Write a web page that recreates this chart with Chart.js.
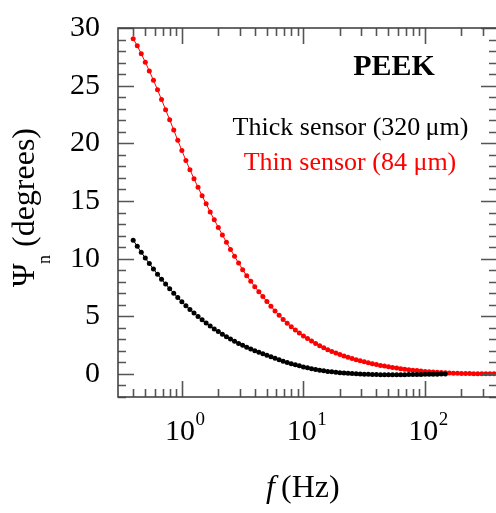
<!DOCTYPE html>
<html>
<head>
<meta charset="utf-8">
<script src="https://cdn.jsdelivr.net/npm/chart.js@4.4.0/dist/chart.umd.min.js"></script>
<style>
  html, body { margin: 0; padding: 0; background: #fff; }
  #wrap { width: 496px; height: 513px; position: relative; }
</style>
</head>
<body>
<div id="wrap"><canvas id="psiChart"></canvas></div>
<script>
const freq = [
  0.400, 0.432, 0.466, 0.503, 0.543, 0.587, 0.634, 0.684, 0.739, 0.798,
  0.862, 0.930, 1.005, 1.085, 1.171, 1.265, 1.366, 1.475, 1.592, 1.719,
  1.857, 2.005, 2.165, 2.338, 2.524, 2.726, 2.943, 3.178, 3.431, 3.705,
  4.000, 4.32, 4.66, 5.03, 5.43, 5.87, 6.34, 6.84, 7.39, 7.98,
  8.62, 9.30, 10.05, 10.85, 11.71, 12.65, 13.66, 14.75, 15.92, 17.19,
  18.57, 20.05, 21.65, 23.38, 25.24, 27.26, 29.43, 31.78, 34.31, 37.05,
  40.0, 43.2, 46.6, 50.3, 54.3, 58.7, 63.4, 68.4, 73.9, 79.8,
  86.2, 93.0, 100.5, 108.5, 117.1, 126.5, 136.6, 147.5, 159.2, 171.9,
  185.7, 200.5, 216.5, 233.8, 252.4, 272.6, 294.3, 317.8, 343.1, 370.5
];

// Psi_n (degrees), thin sensor (84 um)
const thinPsi = [
  29.07, 28.45, 27.77, 27.04, 26.27, 25.47, 24.64, 23.79, 22.92, 22.04,
  21.15, 20.26, 19.37, 18.52, 17.71, 16.93, 16.18, 15.45, 14.75, 14.05,
  13.37, 12.70, 12.05, 11.42, 10.80, 10.20, 9.61, 9.04, 8.52, 8.03,
  7.57, 7.13, 6.71, 6.28, 5.86, 5.46, 5.08, 4.73, 4.40, 4.09,
  3.80, 3.54, 3.30, 3.07, 2.85, 2.64, 2.45, 2.27, 2.10, 1.95,
  1.81, 1.68, 1.56, 1.44, 1.33, 1.23, 1.14, 1.05, 0.96, 0.88,
  0.81, 0.74, 0.68, 0.62, 0.56, 0.51, 0.46, 0.41, 0.37, 0.33,
  0.29, 0.25, 0.22, 0.19, 0.16, 0.14, 0.12, 0.10, 0.08, 0.06,
  0.05, 0.04, 0.03, 0.03, 0.02, 0.02, 0.01, 0.01, 0.01, 0.01
];

// Psi_n (degrees), thick sensor (320 um) - stops around 150 Hz
const thickPsi = [
  11.60, 11.07, 10.55, 10.05, 9.57, 9.10, 8.65, 8.21, 7.79, 7.39,
  7.00, 6.62, 6.26, 5.92, 5.59, 5.28, 4.98, 4.69, 4.42, 4.15,
  3.90, 3.67, 3.44, 3.23, 3.02, 2.83, 2.65, 2.48, 2.31, 2.16,
  2.02, 1.88, 1.75, 1.62, 1.48, 1.35, 1.22, 1.10, 0.99, 0.89,
  0.79, 0.70, 0.61, 0.53, 0.46, 0.39, 0.33, 0.27, 0.22, 0.18,
  0.14, 0.11, 0.08, 0.05, 0.03, 0.01, 0.00, -0.02, -0.03, -0.04,
  -0.05, -0.06, -0.06, -0.07, -0.07, -0.07, -0.06, -0.06, -0.05, -0.05,
  -0.04, -0.04, -0.03, -0.03, -0.02, -0.02, -0.01, 0.00
];

// axis ticks
const yMajor = [0, 5, 10, 15, 20, 25, 30];
const yMinor = [-2, -1, 1, 2, 3, 4, 6, 7, 8, 9, 11, 12, 13, 14, 16, 17, 18, 19, 21, 22, 23, 24, 26, 27, 28, 29];
const xMajor = [1, 10, 100];
const xMajorLabels = ["0", "1", "2"]; // exponents of 10
const xMinor = [0.4, 0.5, 0.6, 0.7, 0.8, 0.9, 2, 3, 4, 5, 6, 7, 8, 9, 20, 30, 40, 50, 60, 70, 80, 90, 200, 300];

const serif = "'Liberation Serif', 'Times New Roman', serif";

const toPts = (vals) => vals.map((v, i) => ({ x: freq[i], y: v }));

// inward ticks, frame and all the text around the plot
const framePlugin = {
  id: "frame",
  afterDraw(chart) {
    const ctx = chart.ctx;
    const a = chart.chartArea;
    const xs = chart.scales.x;
    const ys = chart.scales.y;
    const right = a.right + 1; // right spine sits just past the canvas edge
    ctx.save();

    ctx.strokeStyle = "#555";
    ctx.lineWidth = 1.6;
    ctx.beginPath();
    const hTick = (v, len) => {
      const y = Math.round(ys.getPixelForValue(v)) + 0.5;
      ctx.moveTo(a.left, y); ctx.lineTo(a.left + len, y);
      ctx.moveTo(right, y); ctx.lineTo(right - len, y);
    };
    const vTick = (v, len) => {
      const x = Math.round(xs.getPixelForValue(v)) + 0.5;
      ctx.moveTo(x, a.bottom); ctx.lineTo(x, a.bottom - len);
      ctx.moveTo(x, a.top); ctx.lineTo(x, a.top + len);
    };
    yMajor.forEach(v => hTick(v, 16));
    yMinor.forEach(v => hTick(v, 8));
    xMajor.forEach(v => vTick(v, 16));
    xMinor.forEach(v => vTick(v, 8));
    ctx.stroke();

    ctx.strokeStyle = "#444";
    ctx.lineWidth = 1.6;
    ctx.strokeRect(a.left, a.top, right - a.left, a.bottom - a.top);

    // x tick labels 10^n
    ctx.fillStyle = "#000";
    ctx.textBaseline = "alphabetic";
    xMajor.forEach((v, i) => {
      const x = xs.getPixelForValue(v);
      ctx.font = "30px " + serif;
      ctx.textAlign = "right";
      ctx.fillText("10", x + 13.5, 440);
      ctx.font = "19px " + serif;
      ctx.textAlign = "left";
      ctx.fillText(xMajorLabels[i], x + 14, 425);
    });

    // x title
    ctx.font = "italic 32px " + serif;
    ctx.textAlign = "left";
    ctx.fillText("f", 266, 497);
    ctx.font = "32px " + serif;
    ctx.fillText("(Hz)", 281, 497);

    // y title, rotated, with subscript n
    ctx.save();
    ctx.translate(34, 287);
    ctx.rotate(-Math.PI / 2);
    ctx.textAlign = "left";
    ctx.font = "32px " + serif;
    ctx.fillText("\u03A8", 0, 0);
    ctx.font = "18px " + serif;
    ctx.fillText("n", 23, 16);
    ctx.font = "32px " + serif;
    ctx.fillText("(degrees)", 40, 0);
    ctx.restore();

    // annotations
    ctx.textAlign = "center";
    ctx.font = "bold 30px " + serif;
    ctx.fillText("PEEK", 394, 75);
    ctx.font = "26px " + serif;
    ctx.fillText("Thick sensor (320\u2009\u03BCm)", 350.5, 135);
    ctx.fillStyle = "#ff0000";
    ctx.fillText("Thin sensor (84 \u03BCm)", 350, 170);

    ctx.restore();
  }
};

new Chart(document.getElementById("psiChart"), {
  type: "line",
  data: {
    datasets: [
      {
        label: "Thick sensor (320 \u03BCm)",
        data: toPts(thickPsi),
        borderColor: "#000",
        backgroundColor: "#000",
        borderWidth: 1,
        pointRadius: 2.5,
        pointBorderWidth: 0,
        order: 0,
      },
      {
        label: "Thin sensor (84 \u03BCm)",
        data: toPts(thinPsi),
        borderColor: "#ff0000",
        backgroundColor: "#ff0000",
        borderWidth: 1,
        pointRadius: 2.5,
        pointBorderWidth: 0,
        order: 1,
      },
    ],
  },
  options: {
    responsive: true,
    maintainAspectRatio: false,
    animation: false,
    layout: { autoPadding: false, padding: { left: 0, right: 0, top: 19, bottom: 0 } },
    plugins: {
      legend: { display: false },
      tooltip: { enabled: false },
    },
    scales: {
      x: {
        type: "logarithmic",
        min: 0.3,
        max: 385,
        grid: { display: false },
        border: { display: false },
        ticks: { display: false },
        afterFit: (s) => { s.height = 116; },
      },
      y: {
        type: "linear",
        min: -2,
        max: 30,
        grid: { display: false },
        border: { display: false },
        afterBuildTicks: (s) => { s.ticks = yMajor.map(v => ({ value: v })); },
        ticks: {
          padding: 10,
          color: "#000",
          font: { family: serif, size: 30 },
        },
        afterFit: (s) => { s.width = 118; },
      },
    },
  },
  plugins: [framePlugin],
});
</script>
</body>
</html>
